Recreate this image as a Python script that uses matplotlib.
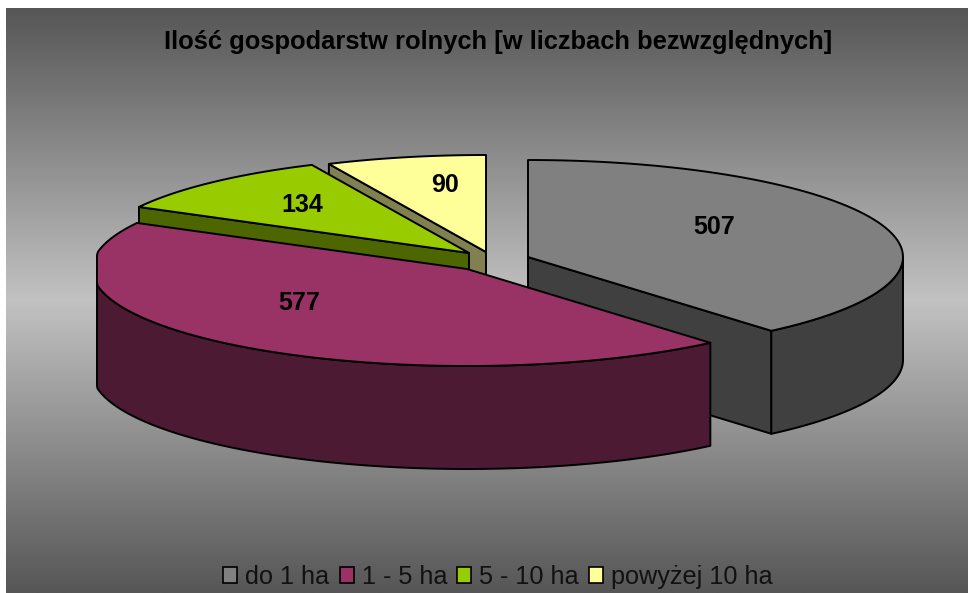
import numpy as np
import matplotlib
matplotlib.use('Agg')
import matplotlib.pyplot as plt
from matplotlib.colors import LinearSegmentedColormap
from matplotlib.patches import Polygon, Patch

plt.rcParams['font.family'] = ['Liberation Sans', 'DejaVu Sans']

# data
categories = ['do 1 ha', '1 - 5 ha', '5 - 10 ha', 'powyżej 10 ha']
values = [507, 577, 134, 90]
title = 'Ilość gospodarstw rolnych [w liczbach bezwzględnych]'

top_colors = ['#808080', '#993366', '#99cc00', '#ffff99']
side_colors = ['#404040', '#4d1a33', '#4d6600', '#808050']

# pie geometry in pixels (exploded slices, squashed ellipse)
centers = [(528, 257), (467, 269), (469, 253), (486, 252)]
label_pos = [(714, 227), (299, 303), (302, 205), (445, 185)]
rx, ry = 375, 97
depth = 103
plot_left, plot_right = 97, 903  # the original clips the rim here
W, H = 968, 593

fig = plt.figure(figsize=(W / 100, H / 100), dpi=100, facecolor='white')
ax = fig.add_axes([0, 0, 1, 1])
ax.axis('off')

# background gradient, dark - light - dark
cmap = LinearSegmentedColormap.from_list('bg', ['#565656', '#c2c2c2', '#565656'])
grad = np.linspace(0, 1, 256).reshape(-1, 1)
ax.imshow(grad, cmap=cmap, extent=(6, W, H, 8), aspect='auto', zorder=0)
ax.set_xlim(0, W)
ax.set_ylim(H, 0)


def rim(cx, cy, a, b, n=80):
    t = np.radians(np.linspace(a, b, n))
    x = np.clip(cx + rx * np.sin(t), plot_left, plot_right)
    return np.column_stack([x, cy - ry * np.cos(t)])


angles = np.cumsum([0] + [v / sum(values) * 360 for v in values])
# painter order: back slices first
order = [3, 2, 0, 1]
z = 2
for i in order:
    a, b = angles[i], angles[i + 1]
    cx, cy = centers[i]
    edge = dict(edgecolor='black', linewidth=1.4, joinstyle='round', zorder=z)

    # cut faces that look to the viewer
    if i in (0, 2, 3):
        ang = b if i == 0 else a
        p = rim(cx, cy, ang, ang, 1)[0]
        face = [(cx, cy), tuple(p), (p[0], p[1] + depth), (cx, cy + depth)]
        ax.add_patch(Polygon(face, closed=True, facecolor=side_colors[i], **edge))

    # outer wall, only the front half of the ellipse
    w0, w1 = max(a, 90), min(b, 270)
    if w1 > w0:
        arc = rim(cx, cy, w0, w1)
        low = arc[::-1] + [0, depth]
        ax.add_patch(Polygon(np.vstack([arc, low]), closed=True,
                             facecolor=side_colors[i], **edge))

    # top of the slice
    arc = rim(cx, cy, a, b)
    ax.add_patch(Polygon(np.vstack([[(cx, cy)], arc]), closed=True,
                         facecolor=top_colors[i], **edge))
    z += 1

for v, (x, y) in zip(values, label_pos):
    ax.text(x, y, str(v), ha='center', va='center', fontsize=18, fontweight='bold',
            color='black', zorder=20)

ax.text(498, 42, title, ha='center', va='center', fontsize=18.4, fontweight='bold',
        color='black', zorder=20)

handles = [Patch(facecolor=c, edgecolor='black', linewidth=1.2) for c in top_colors]
ax.legend(handles, categories, loc='center', bbox_to_anchor=(498 / W, 1 - 577 / H),
          ncol=4, frameon=False, fontsize=18.2, handlelength=0.55, handleheight=0.55,
          handletextpad=0.32, columnspacing=0.4, borderpad=0, labelcolor='#111111')

fig.savefig('out.png', dpi=100)
